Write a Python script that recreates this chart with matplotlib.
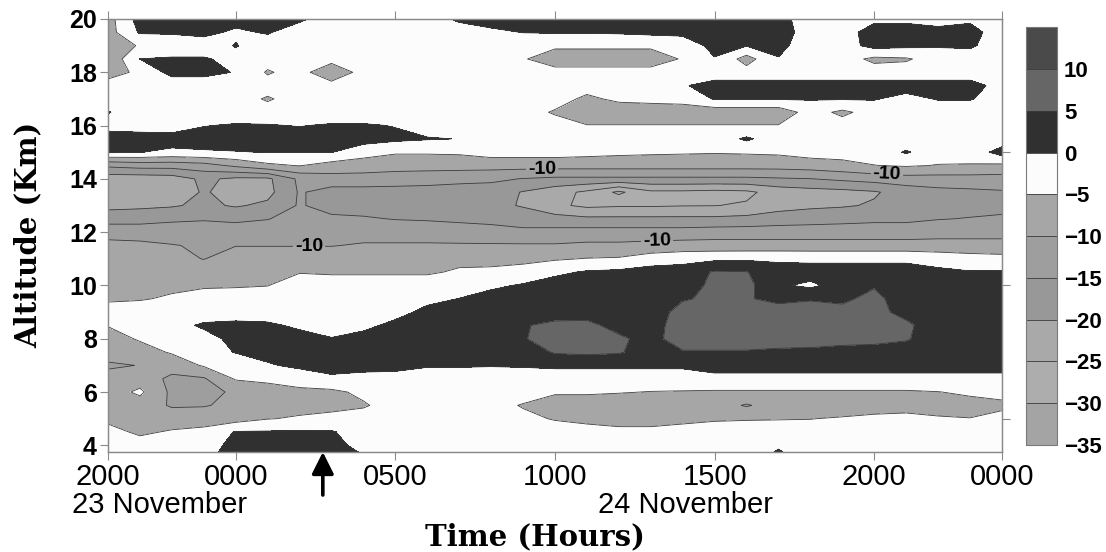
import numpy as np
import matplotlib
matplotlib.use("Agg")
import matplotlib.pyplot as plt

plt.rcParams["font.family"] = ["Liberation Sans", "DejaVu Sans"]

# one column per hour, starting 2000 LT on 23 November
hours = [0, 1, 2, 3, 4, 5, 6, 7, 8, 9, 10, 11, 12, 13, 14, 15, 16, 17, 18, 19,
         20, 21, 22, 23, 24, 25, 26, 27, 28]
# one row per altitude level (km), top of the profile first
altitude_km = [20.0, 19.5, 19.0, 18.5, 18.0, 17.5, 17.0, 16.5, 16.0, 15.5, 15.0,
               14.5, 14.0, 13.5, 13.0, 12.5, 12.0, 11.5, 11.0, 10.5, 10.0, 9.5,
               9.0, 8.5, 8.0, 7.5, 7.0, 6.5, 6.0, 5.5, 5.0, 4.5, 4.0, 3.5]

field = [
    [-7, 2, 2, 2, 2, 2, 1, -3, -3, -3, -3, 1, 2, 2, 2, 2, 2, 2, 2, 2, 2, 2, -3, -3, -1, -1, -2, -1, -3],
    [-7, 0.5, 0.5, 1.5, -1, 0.5, -3, -3, -3, -3, -3, -3, -1, 0.1, 0.3, 0.3, 0.5, 1, 1.2, 2, 2, 2, -2, -2, 2, 2, 1.5, 2, -3],
    [-7, -4.7, -3, -3, 0.3, -3, -3, -3, -3, -3, -3, -3, -3, -3, -4, -4, -4, -4, -3, 1.5, 0.2, 1.5, -3, -2, 1.5, 1, 0.5, 0.8, -3],
    [-9, 0, 0.5, 0.5, -1.5, -3, -3, -3, -3, -3, -3, -3, -3, -4.5, -8, -8, -8, -8, -4.5, -0.3, -7, -0.3, -3, -3, -6, -5.5, -3, -3, -3],
    [-7, -4, 1.5, 1.5, -0.3, -5.5, -3, -9, -3, -3, -3, -3, -3, -3, -3, -3, -3, -3, -3, -3, -3, -3, -3, -3, -3, -3, -3, -3, -3],
    [-3, -3, -3, -3, -3, -3, -3, -3, -3, -3, -3, -3, -3, -3, -3, -3, -3, -3, -0.5, 2, 2, 2, 2, 2, 2, 2, 2, 2, -2],
    [-3, -3, -3, -3, -3, -5.5, -3, -3, -3, -3, -3, -3, -3, -3, -3, -6, -4, -3.5, -3, 0.3, 0.3, 0.3, 0.3, 0.3, 0.3, -1.5, 0.3, 0.3, -2],
    [0.3, -3, -3, -3, -3, -3, -3, -3, -3, -3, -3, -3, -3, -3, -5.5, -8, -8, -8, -8, -8, -8, -8, -3, -6, -3, -3, -3, -3, -3],
    [-1.5, -2, -2.5, -0.2, 0.5, 0.3, -0.2, 0.5, 0.5, -0.2, -2, -3, -3, -3, -3, -4.8, -4.8, -4.8, -4.8, -4.8, -4.8, -4.8, -3, -3, -3, -3, -3, -3, -3],
    [2, 2, 2, 2, 2, 2, 2, 2, 2, 1, 0.3, -0.1, -3, -3, -3, -3, -3, -3, -3, -3, 0.8, -3, -3, -3, -3, -3, -3, -3, -3],
    [0.5, 0.1, -1, -0.5, -0.2, 0.1, 0.1, 0.1, -3, -4.5, -4.5, -4.3, -3, -3, -3, -3.5, -4, -4.3, -4.5, -4.7, -4.5, -4.2, -3, -3, -3, 0.5, -3, -3, 2],
    [-14, -13, -13, -12, -9, -6, -4.8, -7, -7.5, -8, -8, -8, -8, -8, -8, -8, -8, -8, -8, -8, -8, -8, -7.5, -6.5, -5.1, -4.5, -5.2, -5.3, -6],
    [-23, -23, -22.5, -19, -21, -21, -14, -12, -12, -12.5, -13, -13.5, -14, -15.2, -16, -16, -16, -16, -16, -16, -16, -15.5, -15.1, -14, -13, -12, -12, -12, -12],
    [-23.5, -23.5, -23, -19.5, -22, -21.5, -14.5, -17, -17, -17, -17, -17.5, -17.5, -20.3, -23, -26, -31, -26, -26, -26.5, -26, -23, -22, -21.5, -20.5, -18, -16.5, -16, -15.5],
    [-21.5, -21, -20.5, -19, -20.5, -19, -14.5, -17, -17, -17.5, -18, -18.5, -19, -20.3, -24, -26, -25.5, -25.5, -25.2, -25.1, -24.5, -22, -21, -20.5, -19.5, -18.5, -17, -16.5, -16],
    [-17, -17, -16, -15.5, -16, -15.2, -13, -14, -14.5, -15.2, -15.5, -16, -16.5, -18, -18, -19, -19, -19, -19, -19, -18.5, -17.5, -17, -16.5, -16, -16, -15.2, -14.8, -14.5],
    [-12, -12, -12, -12, -12.5, -12, -11.5, -12, -12, -12, -12, -12.5, -13, -13.5, -13.5, -13, -13, -13, -13, -12.5, -12.5, -12.5, -12.5, -12.5, -12.5, -12.5, -12, -12, -12],
    [-8.5, -9, -9.8, -10.5, -10.2, -10.2, -10.2, -10.2, -9.5, -9.5, -9.5, -9.5, -9.5, -9.5, -9.5, -9, -9, -8.5, -8, -8, -8, -8, -8, -8, -8, -8, -8, -8, -8],
    [-7, -7, -8, -10.2, -7, -7, -7, -7, -7, -7, -7, -6, -6.5, -6, -5.5, -4.8, -4.5, -2.5, -1.5, -1, -0.8, -0.8, -1, -1, -1, -1, -2, -3, -3.5],
    [-6.5, -6.5, -6.5, -6.2, -6, -6, -5.2, -5.5, -5.5, -5.5, -5.5, -4.5, -4, -3.5, -1, 0.5, 1, 2, 2, 5.5, 5.2, 2, 2, 2, 2, 2, 1, 0.3, 0.5],
    [-6, -6, -5.8, -5.3, -5.2, -5.1, -3, -3, -3, -3, -3, -3, -1, 0.5, 2, 2, 2, 2, 2, 6.5, 6.5, 0.7, -1, 2, 4.5, 2, 2, 2, 2],
    [-5.5, -5.3, -4.5, -4, -4, -3, -3, -3, -3, -3, -1.5, 0.1, 2, 2, 2, 2, 2, 2, 4.5, 6, 5.5, 3.5, 4.5, 4, 6.5, 2, 2, 2, 2],
    [-3.5, -3, -3, -3, -3, -3, -3, -3, -3, -2, 1.5, 2, 2, 2, 2, 2.5, 2, 2, 7, 8, 8, 7.5, 7.5, 6.5, 6.5, 3.5, 2, 2, 2],
    [-4.8, -3, -2, 0.8, 1.5, 1, -1, -3, -1.5, 1.5, 2, 2, 2, 4.5, 6.5, 6.5, 3, 2.5, 8, 8, 8, 7.5, 7.5, 7.5, 7, 6, 2, 2, 2],
    [-7, -4.5, -3, -2, 1.5, 2, 2, 0.3, 2, 2, 2, 2, 2, 4.5, 8, 8, 6, 3, 8, 8, 8, 7.5, 7, 7, 6.5, 5.5, 2, 2, 2],
    [-7, -7, -4.5, -3, 0.3, 1.5, 2, 2, 2, 2, 2, 2, 2, 2, 5.5, 6, 5.5, 2.5, 4.5, 4.5, 4.5, 4, 4, 3, 3, 2.5, 2, 2, 2],
    [-11, -9.8, -8, -4.5, -4, -0.5, 1, 2, 2, 2, 0.5, 0.5, 0.3, 0.5, 1, 1, 1, 1, 1, 2, 2, 2, 2, 2, 2, 2, 2, 2, 2],
    [-7.5, -7.5, -11, -10.5, -4.5, -4.5, -3, -1, -2, -2.5, -3, -3, -3, -3, -3, -3, -3, -3, -3, -1.5, -1.5, -1.5, -1.5, -1.5, -1.5, -1.5, -1.5, -1.5, -1.5],
    [-7.5, -4, -11, -11, -9.5, -6, -6, -6, -4, -3, -3, -3, -3, -3, -4.5, -4.5, -4.8, -5.1, -5.2, -5.5, -5.5, -5.5, -5.5, -5.5, -5.5, -5.5, -5.1, -4.3, -3.5],
    [-7, -7.5, -10.5, -10.3, -9, -7, -6.5, -6, -5.5, -3, -3, -3, -3.5, -5.3, -7, -7, -7, -7, -7, -7.5, -10.5, -7.5, -7.5, -7.5, -7, -7, -7, -6.5, -6],
    [-6, -7, -7.5, -7.5, -7, -5.2, -4.5, -4, -3, -3, -3, -3, -3, -4, -5.3, -6, -6.5, -6.5, -6, -5.5, -5.3, -5.2, -5.1, -4.6, -4, -3.5, -4.5, -4.9, -3.5],
    [-3.5, -5.8, -4.5, -3.5, 0.3, 0.4, 0.5, 0.5, -3, -3, -3, -3, -3, -3, -3, -3.5, -4, -4, -3.5, -3, -3, -3, -3, -3, -3, -3, -3, -3, -3],
    [-3, -3, -3, -3, 2, 2, 2, 1.5, -1.5, -3, -3, -3, -3, -3, -3, -3, -3, -3, -3, -3, -3, -1, -3, -3, -3, -3, -3, -3, -3],
    [-3, -3, -3, -1, 2, 2, 2, 1.5, 0.5, -3, -3, -3, -3, -3, -3, -3, -3, -3, -3, -3, -3, 2.5, -3, -3, -3, -3, -3, -3, -3],
]

levels = [-35, -30, -25, -20, -15, -10, -5, 0, 5, 10, 15]
line_levels = [-35, -30, -25, -20, -15, -5, 0, 5, 10, 15]
labelled_level = [-10]
band_colors = ["#a4a4a4", "#adadad", "#a9a9a9", "#989898", "#9e9e9e",
               "#a6a6a6", "#fcfcfc", "#303030", "#666666", "#4a4a4a"]
cbar_ticks = [-35, -30, -25, -20, -15, -10, -5, 0, 5, 10]

tick_hours = [0, 4, 9, 14, 19, 24, 28]
tick_labels = ["2000", "0000", "0500", "1000", "1500", "2000", "0000"]
alt_ticks = [4, 6, 8, 10, 12, 14, 16, 18, 20]
right_ticks = [5, 10, 15]
label_spots = [(13.6, 14.2), (24.4, 14.2), (6.3, 11.5), (17.2, 11.6)]
arrow_hour = 6.73

z = np.array(field)
line_kw = dict(colors="#3a3a3a", linewidths=0.6, linestyles="solid")

fig = plt.figure(figsize=(11.06, 5.52), dpi=100)
ax = fig.add_axes([0.0976, 0.1812, 0.8083, 0.7844])
cax = fig.add_axes([0.9277, 0.1938, 0.028, 0.757])

cf = ax.contourf(hours, altitude_km, z, levels=levels, colors=band_colors)
cl = ax.contour(hours, altitude_km, z, levels=line_levels, **line_kw)
c10 = ax.contour(hours, altitude_km, z, levels=labelled_level, **line_kw)
lab = ax.clabel(c10, manual=label_spots, fmt="%d", fontsize=14,
                inline=True, inline_spacing=2, colors="black")
for t in lab:
    t.set_fontweight("bold")

ax.set_xlim(0, 28)
ax.set_ylim(3.75, 20)
ax.set_xticks(tick_hours, tick_labels, fontsize=21)
ax.set_yticks(alt_ticks, [str(a) for a in alt_ticks], fontsize=18,
              fontweight="bold")
ax.tick_params(direction="out", length=6, width=0.8, color="#8a8a8a",
               top=True, pad=2)
for s in ax.spines.values():
    s.set_color("#8a8a8a")
    s.set_linewidth(0.9)

# unlabeled ticks on the right-hand frame
rax = ax.twinx()
rax.set_ylim(3.75, 20)
rax.set_yticks(right_ticks, ["", "", ""])
rax.tick_params(direction="out", length=6, width=0.8, color="#8a8a8a")
for s in rax.spines.values():
    s.set_color("#8a8a8a")
    s.set_linewidth(0.9)

cb = fig.colorbar(cf, cax=cax, ticks=cbar_ticks)
cb.add_lines(cl)
cb.add_lines(c10, erase=False)
cb.outline.set_edgecolor("#7a7a7a")
cb.outline.set_linewidth(0.8)
cb.ax.tick_params(length=0, labelsize=16, pad=5)
for t in cb.ax.get_yticklabels():
    t.set_fontweight("bold")

ax.annotate("", xy=(arrow_hour, 3.75), xycoords="data",
            xytext=(0, -31), textcoords="offset points",
            arrowprops=dict(arrowstyle="-|>,head_length=0.6,head_width=0.3",
                            color="black", lw=2.6, mutation_scale=22,
                            shrinkA=0, shrinkB=0),
            annotation_clip=False)

fig.text(72 / 1106, 1 - 505 / 552, "23 November", fontsize=21,
         ha="left", va="center")
fig.text(685 / 1106, 1 - 505 / 552, "24 November", fontsize=21,
         ha="center", va="center")
fig.text(535 / 1106, 1 - 537 / 552, "Time (Hours)", fontsize=21,
         fontweight="bold", family="DejaVu Serif", ha="center", va="center")
fig.text(28 / 1106, 1 - 235 / 552, "Altitude (Km)", fontsize=21,
         fontweight="bold", family="DejaVu Serif", rotation=90,
         ha="center", va="center")

fig.savefig("out.png", dpi=100)
